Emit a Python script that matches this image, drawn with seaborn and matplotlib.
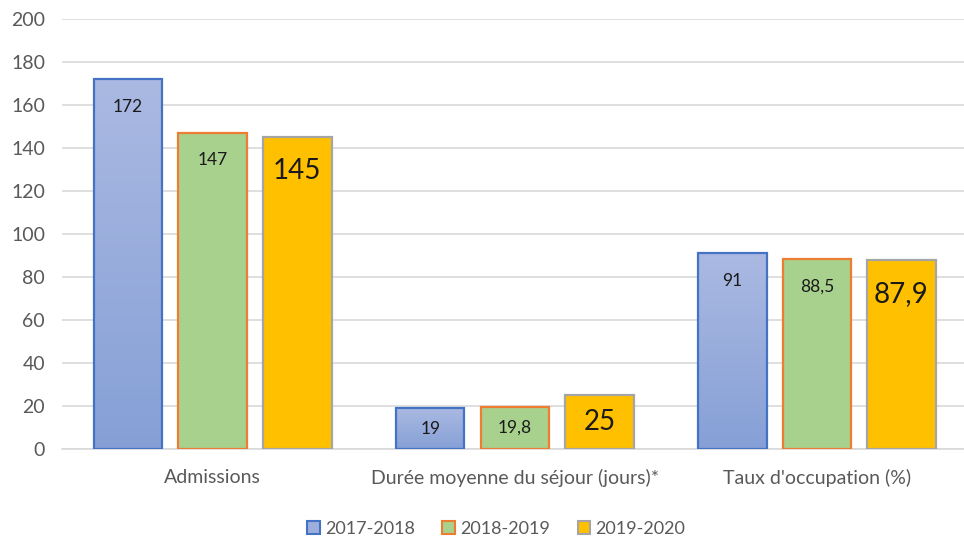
import numpy as np
import pandas as pd
import matplotlib
matplotlib.use("Agg")
import matplotlib.pyplot as plt
import seaborn as sns

# ---------------- data ----------------
categories = ["Admissions", "Durée moyenne du séjour (jours)*", "Taux d'occupation (%)"]
years = ["2017-2018", "2018-2019", "2019-2020"]
v_2017 = [172, 19, 91]
v_2018 = [147, 19.8, 88.5]
v_2019 = [145, 25, 87.9]
label_2017 = ["172", "19", "91"]
label_2018 = ["147", "19,8", "88,5"]
label_2019 = ["145", "25", "87,9"]

fills = ["#9DAEDD", "#A9D18E", "#FFC000"]
edges = ["#4472C4", "#ED7D31", "#A5A5A5"]

df = pd.DataFrame({
    "cat": categories * 3,
    "year": [y for y in years for _ in categories],
    "val": v_2017 + v_2018 + v_2019,
})

sns.set_style("white")
plt.rcParams["font.family"] = ["Lato", "DejaVu Sans"]

fig = plt.figure(figsize=(9.64, 5.38), dpi=100)
ax = fig.add_axes([0.064, 0.165, 0.94, 0.8])

sns.barplot(data=df, x="cat", y="val", hue="year", order=categories,
            hue_order=years, palette=fills, saturation=1, width=0.84, gap=0.19,
            linewidth=1.5, edgecolor="none", ax=ax, legend=False, zorder=3)

# edge colours per series + gradient for the blue series
for i, cont in enumerate(ax.containers):
    for bar in cont:
        bar.set_edgecolor(edges[i])
        bar.set_linewidth(1.6)
        if i == 0:
            x0, y0 = bar.get_x(), bar.get_y()
            w, h = bar.get_width(), bar.get_height()
            grad = np.linspace(0, 1, 100).reshape(-1, 1)
            cmap = matplotlib.colors.LinearSegmentedColormap.from_list(
                "g", ["#86A0D6", "#AAB9E2"])
            im = ax.imshow(grad, extent=[x0, x0 + w, y0, y0 + h], origin="lower",
                           aspect="auto", cmap=cmap, zorder=3.1)
            im.set_clip_path(bar)
            bar.set_facecolor("none")
            bar.set_zorder(3.2)

# data labels
labels = [label_2017, label_2018, label_2019]
sizes = [12.5, 12.5, 20]
for i, cont in enumerate(ax.containers):
    for j, bar in enumerate(cont):
        xc = bar.get_x() + bar.get_width() / 2
        h = bar.get_height()
        if h < 40:
            ax.text(xc, h / 2, labels[i][j], ha="center", va="center",
                    fontsize=sizes[i], color="#1a1a1a", zorder=5)
        else:
            ax.annotate(labels[i][j], (xc, h), xytext=(0, -14 if i < 2 else -15),
                        textcoords="offset points", ha="center", va="top",
                        fontsize=sizes[i], color="#1a1a1a", zorder=5)

ax.set_ylim(0, 200)
ax.set_xlim(-0.5, 2.5)
ax.set_yticks(range(0, 201, 20))
ax.yaxis.grid(True, color="#D9D9D9", linewidth=1.2, zorder=0)
ax.set_axisbelow(True)
ax.tick_params(axis="y", labelsize=14, labelcolor="#595959", length=0, pad=12)
ax.tick_params(axis="x", labelsize=14, labelcolor="#595959", length=0, pad=14)
ax.set_xlabel("")
ax.set_ylabel("")
for s in ["top", "right", "left"]:
    ax.spines[s].set_visible(False)
ax.spines["bottom"].set_color("#D9D9D9")
ax.spines["bottom"].set_linewidth(1.2)

handles = [matplotlib.patches.Patch(facecolor=fills[k], edgecolor=edges[k], linewidth=1.5)
           for k in range(3)]
fig.legend(handles, years, loc="center", bbox_to_anchor=(0.515, 0.017), ncol=3,
           frameon=False, fontsize=13, handlelength=0.7, handleheight=0.7,
           handletextpad=0.3, columnspacing=1.5, labelcolor="#595959")

fig.savefig("out.png", dpi=100)
